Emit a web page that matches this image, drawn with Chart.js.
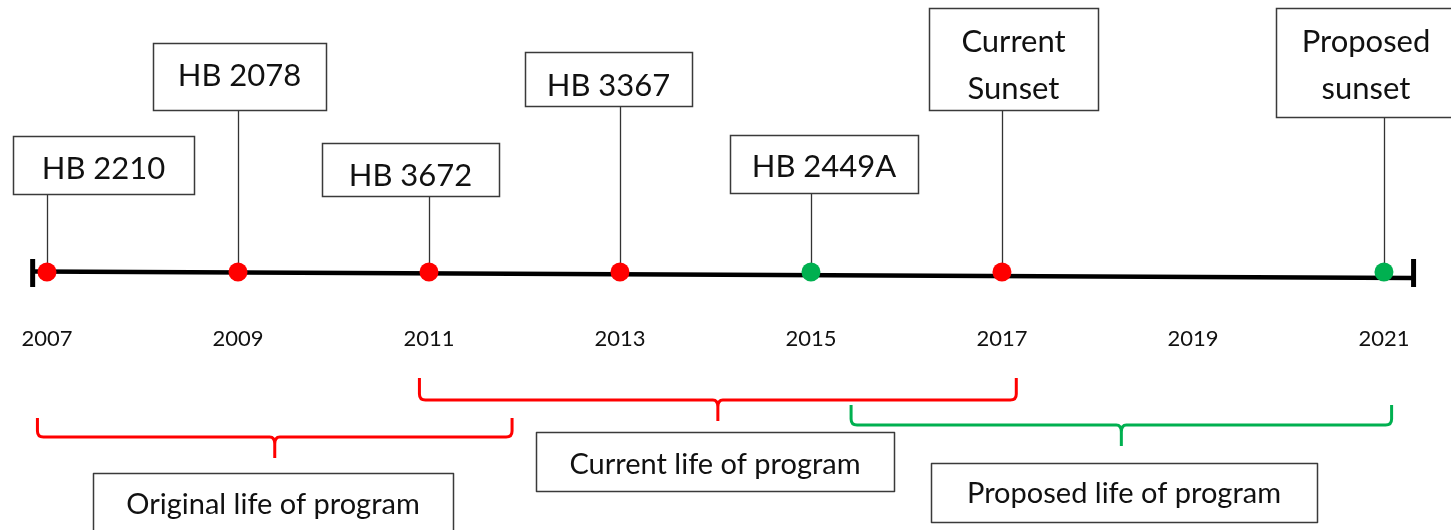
<!DOCTYPE html>
<html>
<head>
<meta charset="utf-8">
<script src="https://cdn.jsdelivr.net/npm/chart.js@4"></script>
<style>
  html, body { margin: 0; padding: 0; background: #ffffff; }
  #wrap { width: 1451px; height: 530px; position: relative; }
</style>
</head>
<body>
<div id="wrap"><canvas id="c" width="1451" height="530"></canvas></div>
<script>
// ---------- DATA ----------
const eventYears  = [2007, 2009, 2011, 2013, 2015, 2017, 2021];
const eventLabels = [['HB 2210'], ['HB 2078'], ['HB 3672'], ['HB 3367'], ['HB 2449A'], ['Current', 'Sunset'], ['Proposed', 'sunset']];
const eventStatus = ['past', 'past', 'past', 'past', 'proposed', 'past', 'proposed'];
const tickYears   = [2007, 2009, 2011, 2013, 2015, 2017, 2019, 2021];
const timelineSpan = [2006.85, 2021.31];
const periodLabels = ['Original life of program', 'Current life of program', 'Proposed life of program'];
const periodStart  = [2006.9, 2010.9, 2015.42];
const periodEnd    = [2011.87, 2017.15, 2021.08];
const periodStatus = ['past', 'past', 'proposed'];

// ---------- STYLE / LAYOUT ----------
const statusColor = { past: '#FF0000', proposed: '#00B050' };
const textColor = '#111111';
const boxBorder = '#3a3a3a';
const labelFont = '31px Lato, "Open Sans", sans-serif';
const periodFont = '29px Lato, "Open Sans", sans-serif';
// callout box layout (pixels): left, width, top, bottom, text line centres
const eventBoxes = [
  { x: 13,   w: 181, top: 136, bottom: 194, ty: [169] },
  { x: 153,  w: 173, top: 43,  bottom: 110, ty: [76] },
  { x: 322,  w: 177, top: 143, bottom: 196, ty: [176] },
  { x: 525,  w: 167, top: 52,  bottom: 106, ty: [86] },
  { x: 730,  w: 188, top: 135, bottom: 193, ty: [167] },
  { x: 929,  w: 169, top: 8,   bottom: 110, ty: [42, 89] },
  { x: 1276, w: 180, top: 8,   bottom: 117, ty: [42, 89] }
];
const bracketLayout = [
  { top: 418, bar: 437, tip: 458, box: { x: 93,  w: 360, top: 473, bottom: 545, ty: 505 } },
  { top: 378, bar: 400, tip: 421, box: { x: 536, w: 358, top: 432, bottom: 491, ty: 465 } },
  { top: 405, bar: 425, tip: 446, box: { x: 931, w: 386, top: 463, bottom: 522, ty: 494 } }
];

const annotPlugin = {
  id: 'timelineAnnotations',
  beforeDatasetsDraw(chart) {
    const ctx = chart.ctx;
    const xs = chart.scales.x, ys = chart.scales.y;
    ctx.save();
    eventYears.forEach((yr, i) => {
      const px = Math.round(xs.getPixelForValue(yr)) + 0.5;
      const py = ys.getPixelForValue(0);
      const b = eventBoxes[i];
      ctx.strokeStyle = '#333333';
      ctx.lineWidth = 1.3;
      ctx.beginPath();
      ctx.moveTo(px, b.bottom);
      ctx.lineTo(px, py);
      ctx.stroke();
    });
    ctx.restore();
  },
  afterDatasetsDraw(chart) {
    const ctx = chart.ctx;
    const xs = chart.scales.x;
    ctx.save();
    eventYears.forEach((yr, i) => {
      const b = eventBoxes[i];
      const left = b.x + 0.5;
      const cx = b.x + b.w / 2;
      ctx.fillStyle = '#ffffff';
      ctx.fillRect(left, b.top + 0.5, b.w, b.bottom - b.top);
      ctx.strokeStyle = boxBorder;
      ctx.lineWidth = 1.5;
      ctx.strokeRect(left, b.top + 0.5, b.w, b.bottom - b.top);
      ctx.fillStyle = textColor;
      ctx.font = labelFont;
      ctx.textAlign = 'center';
      ctx.textBaseline = 'middle';
      eventLabels[i].forEach((t, k) => ctx.fillText(t, cx, b.ty[k]));
    });
    periodLabels.forEach((lab, i) => {
      const L = bracketLayout[i];
      const x0 = xs.getPixelForValue(periodStart[i]);
      const x1 = xs.getPixelForValue(periodEnd[i]);
      const xm = (x0 + x1) / 2;
      const r = 6;
      ctx.strokeStyle = statusColor[periodStatus[i]];
      ctx.lineWidth = 3;
      ctx.lineJoin = 'round';
      ctx.beginPath();
      ctx.moveTo(x0, L.top);
      ctx.lineTo(x0, L.bar - r);
      ctx.quadraticCurveTo(x0, L.bar, x0 + r, L.bar);
      ctx.lineTo(xm - 5, L.bar);
      ctx.quadraticCurveTo(xm, L.bar, xm, L.bar + 7);
      ctx.lineTo(xm, L.tip);
      ctx.moveTo(xm, L.bar + 7);
      ctx.quadraticCurveTo(xm, L.bar, xm + 5, L.bar);
      ctx.lineTo(x1 - r, L.bar);
      ctx.quadraticCurveTo(x1, L.bar, x1, L.bar - r);
      ctx.lineTo(x1, L.top);
      ctx.stroke();
      const bx = L.box;
      ctx.fillStyle = '#ffffff';
      ctx.fillRect(bx.x + 0.5, bx.top + 0.5, bx.w, bx.bottom - bx.top);
      ctx.strokeStyle = boxBorder;
      ctx.lineWidth = 1.5;
      ctx.strokeRect(bx.x + 0.5, bx.top + 0.5, bx.w, bx.bottom - bx.top);
      ctx.fillStyle = textColor;
      ctx.font = periodFont;
      ctx.textAlign = 'center';
      ctx.textBaseline = 'middle';
      ctx.fillText(lab, bx.x + bx.w / 2, bx.ty);
    });
    ctx.restore();
  }
};

new Chart(document.getElementById('c'), {
  type: 'scatter',
  data: {
    datasets: [
      {
        label: 'Events',
        data: eventYears.map(y => ({ x: y, y: 0 })),
        pointRadius: 9.5,
        pointHoverRadius: 9.5,
        pointBorderWidth: 0,
        pointBackgroundColor: eventStatus.map(s => statusColor[s]),
        pointBorderColor: eventStatus.map(s => statusColor[s]),
        showLine: false
      },
      {
        label: 'Caps',
        data: timelineSpan.map(x => ({ x: x, y: -1 })),
        pointStyle: 'line',
        pointRotation: 90,
        pointRadius: 14,
        pointHoverRadius: 14,
        pointBorderWidth: 5,
        pointBorderColor: '#000000',
        showLine: false
      },
      {
        label: 'Timeline',
        type: 'line',
        data: [{ x: timelineSpan[0], y: 0.5 }, { x: timelineSpan[1], y: -6 }],
        borderColor: '#000000',
        borderWidth: 4.5,
        pointRadius: 0,
        showLine: true,
        fill: false
      }
    ]
  },
  options: {
    responsive: false,
    animation: false,
    devicePixelRatio: 1,
    layout: { padding: 0, autoPadding: false },
    plugins: { legend: { display: false }, tooltip: { enabled: false } },
    events: [],
    scales: {
      x: {
        type: 'linear',
        min: 2006.508,
        max: 2021.702,
        position: { y: 0 },
        afterBuildTicks: (axis) => { axis.ticks = tickYears.map(v => ({ value: v })); },
        afterFit: (axis) => { axis.paddingLeft = 0; axis.paddingRight = 0; },
        grid: { display: false },
        border: { display: false },
        ticks: {
          autoSkip: false,
          maxRotation: 0,
          padding: 46,
          color: textColor,
          font: { family: 'Lato, "Open Sans", sans-serif', size: 22 },
          callback: (v) => String(v)
        }
      },
      y: {
        type: 'linear',
        min: -258,
        max: 272,
        display: false
      }
    }
  },
  plugins: [annotPlugin]
});
</script>
</body>
</html>
